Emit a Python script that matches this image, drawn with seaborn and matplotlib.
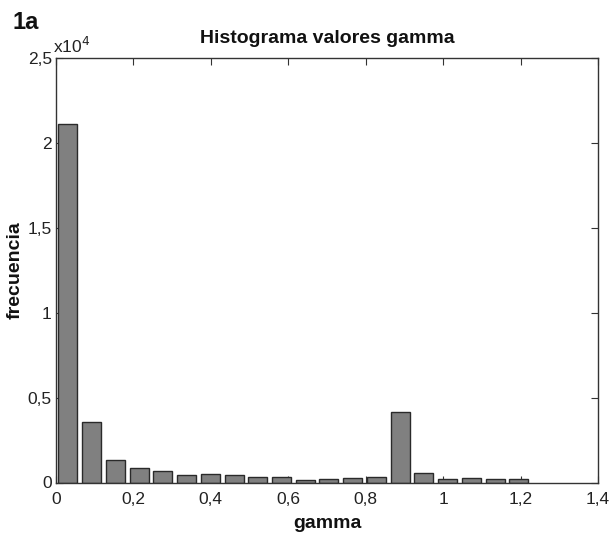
import numpy as np
import pandas as pd
import matplotlib
matplotlib.use("Agg")
import matplotlib.pyplot as plt
import seaborn as sns
from matplotlib.ticker import FixedLocator, FixedFormatter

# data: histogram bin centers and counts
bin_width = 0.0613
bin_centers = [0.0307 + i * 0.0613 for i in range(20)]
counts = [21100, 3550, 1310, 835, 680, 440, 480, 440, 300, 300,
          150, 220, 250, 320, 4150, 560, 220, 260, 200, 190]

x_ticks = [0, 0.2, 0.4, 0.6, 0.8, 1.0, 1.2, 1.4]
x_tick_labels = ["0", "0,2", "0,4", "0,6", "0,8", "1", "1,2", "1,4"]
y_ticks = [0, 5000, 10000, 15000, 20000, 25000]
y_tick_labels = ["0", "0,5", "1", "1,5", "2", "2,5"]

sns.set_style("white")
plt.rcParams['font.family'] = ['Liberation Sans', 'DejaVu Sans']

df = pd.DataFrame({"gamma": bin_centers, "count": counts})
edges = [bin_centers[0] - bin_width / 2 + i * bin_width for i in range(len(bin_centers) + 1)]

W, H = 612, 534
fig = plt.figure(figsize=(6.12, 5.34), dpi=100)
ax = fig.add_axes([56 / W, 51.5 / H, 542 / W, 424.5 / H])

sns.histplot(data=df, x="gamma", weights="count", bins=edges, shrink=0.8,
             color="#808080", edgecolor="#2a2a2a", linewidth=1.0, alpha=1.0, ax=ax)

ax.set_xlim(0, 1.4)
ax.set_ylim(0, 25000)
ax.xaxis.set_major_locator(FixedLocator(x_ticks))
ax.xaxis.set_major_formatter(FixedFormatter(x_tick_labels))
ax.yaxis.set_major_locator(FixedLocator(y_ticks))
ax.yaxis.set_major_formatter(FixedFormatter(y_tick_labels))
ax.tick_params(direction="in", length=5, width=0.8, color="#333333",
               top=True, right=True, bottom=True, left=True,
               labelsize=12.5, labelcolor="#222222")
ax.tick_params(axis="x", pad=7)
ax.tick_params(axis="y", pad=3)
for s in ax.spines.values():
    s.set_visible(True)
    s.set_color("#333333")
    s.set_linewidth(1.0)

ax.set_title("Histograma valores gamma", fontsize=14, fontweight="bold", pad=10.8,
             color="#111111")
ax.set_xlabel("gamma", fontsize=14, fontweight="bold", color="#111111")
ax.xaxis.label.set_verticalalignment("baseline")
ax.xaxis.set_label_coords(0.5, (483 - 529) / 424.5)
ax.set_ylabel("frecuencia", fontsize=14, fontweight="bold", color="#111111")
ax.yaxis.label.set_verticalalignment("center")
ax.yaxis.set_label_coords((15.5 - 56) / 542, 0.5)

fig.text(53 / W, 1 - 53 / H, "x10$^4$", fontsize=12.5, color="#222222", va="baseline")
fig.text(12 / W, 1 - 29 / H, "1a", fontsize=17, fontweight="bold", va="baseline",
         color="#111111")

fig.savefig("out.png", dpi=100)
